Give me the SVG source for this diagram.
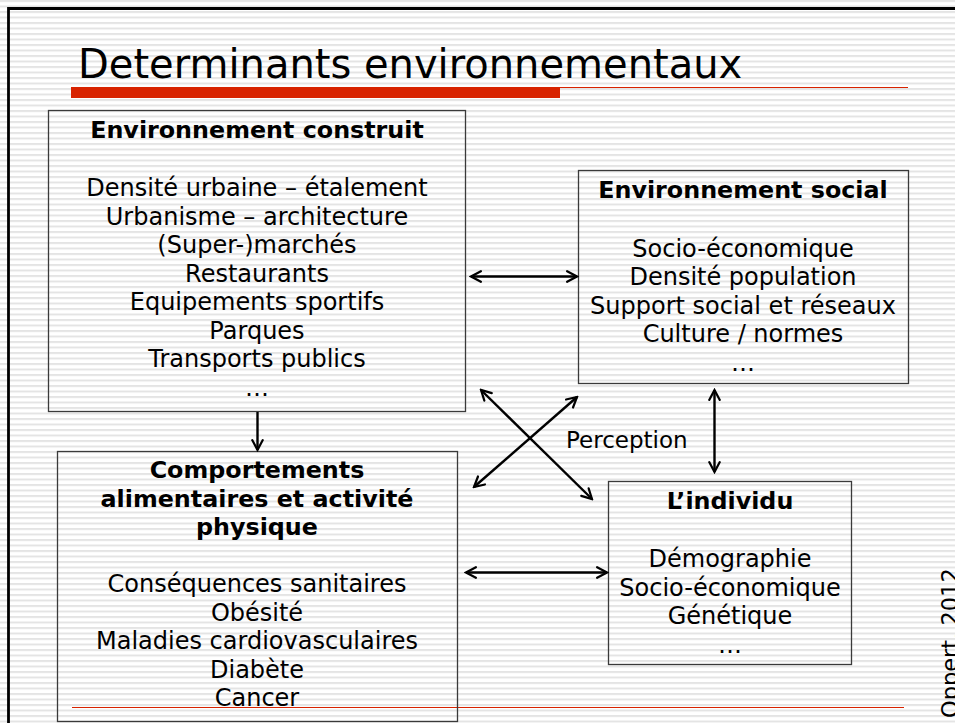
<svg xmlns="http://www.w3.org/2000/svg" width="955" height="723" viewBox="0 0 955 723">
  <defs>
    <pattern id="ruled" patternUnits="userSpaceOnUse" width="955" height="5.5">
      <rect x="0" y="0" width="955" height="5.5" fill="#ffffff"/>
      <rect x="0" y="0" width="955" height="2" fill="#e4e4e4"/>
    </pattern>
    <marker id="head" viewBox="0 0 12 12" refX="10.5" refY="6" markerWidth="5.5" markerHeight="5.5" markerUnits="strokeWidth" orient="auto-start-reverse">
      <path d="M1.5,1.2 L10.5,6 L1.5,10.8" fill="none" stroke="#000" stroke-width="2" stroke-linejoin="miter" stroke-linecap="round"/>
    </marker>
    <style>
      .box { fill: none; stroke: #3a3a3a; stroke-width: 1.3; }
      .t { font-family: "DejaVu Sans", Verdana, sans-serif; font-size: 24px; fill: #000; text-anchor: middle; }
      .b { font-weight: bold; font-size: 23.8px; }
      .link { stroke: #000; stroke-width: 2.4; fill: none; marker-end: url(#head); }
      .both { marker-start: url(#head); }
    </style>
  </defs>

  <!-- ruled paper background and frame -->
  <rect x="0" y="0" width="955" height="723" fill="url(#ruled)"/>
  <path d="M8.5,723 V8.5 H955" fill="none" stroke="#000" stroke-width="2.8"/>

  <!-- slide title -->
  <text x="78" y="78" font-family="DejaVu Sans, Verdana, sans-serif" font-size="40" fill="#000">Determinants environnementaux</text>
  <rect x="71" y="87" width="489" height="11" fill="#d82300"/>
  <line x1="560" y1="87.5" x2="908" y2="87.5" stroke="#d82300" stroke-width="1.2"/>
  <line x1="72" y1="707.5" x2="904" y2="707.5" stroke="#d82300" stroke-width="1.2"/>

  <g id="env-construit">
    <rect class="box" x="48.5" y="110.5" width="417" height="301"/>
    <text class="t b" x="257" y="138">Environnement construit</text>
    <text class="t" x="257" y="196">Densité urbaine – étalement</text>
    <text class="t" x="257" y="224.5">Urbanisme – architecture</text>
    <text class="t" x="257" y="253">(Super-)marchés</text>
    <text class="t" x="257" y="281.5">Restaurants</text>
    <text class="t" x="257" y="310">Equipements sportifs</text>
    <text class="t" x="257" y="338.5">Parques</text>
    <text class="t" x="257" y="367">Transports publics</text>
    <text class="t" x="257" y="395.5">…</text>
  </g>

  <g id="env-social">
    <rect class="box" x="578.5" y="170.5" width="330" height="213"/>
    <text class="t b" x="743" y="198">Environnement social</text>
    <text class="t" x="743" y="256.5">Socio-économique</text>
    <text class="t" x="743" y="285">Densité population</text>
    <text class="t" x="743" y="313.5">Support social et réseaux</text>
    <text class="t" x="743" y="342">Culture / normes</text>
    <text class="t" x="743" y="370.5">…</text>
  </g>

  <g id="individu">
    <rect class="box" x="608.5" y="481.5" width="243" height="183"/>
    <text class="t b" x="730" y="509">L’individu</text>
    <text class="t" x="730" y="567">Démographie</text>
    <text class="t" x="730" y="595.5">Socio-économique</text>
    <text class="t" x="730" y="624">Génétique</text>
    <text class="t" x="730" y="652.5">…</text>
  </g>

  <g id="comportements">
    <rect class="box" x="57.5" y="451.5" width="400" height="270"/>
    <text class="t b" x="257" y="478">Comportements</text>
    <text class="t b" x="257" y="507">alimentaires et activité</text>
    <text class="t b" x="257" y="535">physique</text>
    <text class="t" x="257" y="592">Conséquences sanitaires</text>
    <text class="t" x="257" y="620.5">Obésité</text>
    <text class="t" x="257" y="649">Maladies cardiovasculaires</text>
    <text class="t" x="257" y="677.5">Diabète</text>
    <text class="t" x="257" y="706">Cancer</text>
  </g>

  <g id="connectors">
    <line class="link" x1="257.5" y1="412" x2="257.5" y2="450"/>
    <line class="link both" x1="471" y1="276.5" x2="577" y2="276.5"/>
    <line class="link both" x1="714.5" y1="390" x2="714.5" y2="472"/>
    <line class="link both" x1="466" y1="572.5" x2="607" y2="572.5"/>
    <line class="link both" x1="481" y1="390" x2="592" y2="499"/>
    <line class="link both" x1="474" y1="487" x2="577" y2="397"/>
    <text x="566" y="448" font-family="DejaVu Sans, Verdana, sans-serif" font-size="23" fill="#000">Perception</text>
  </g>

  <!-- source credit along the right edge -->
  <text transform="translate(958,718) rotate(-90)" font-family="DejaVu Sans, Verdana, sans-serif" font-size="22.5" fill="#000">Oppert, 2012</text>
</svg>
